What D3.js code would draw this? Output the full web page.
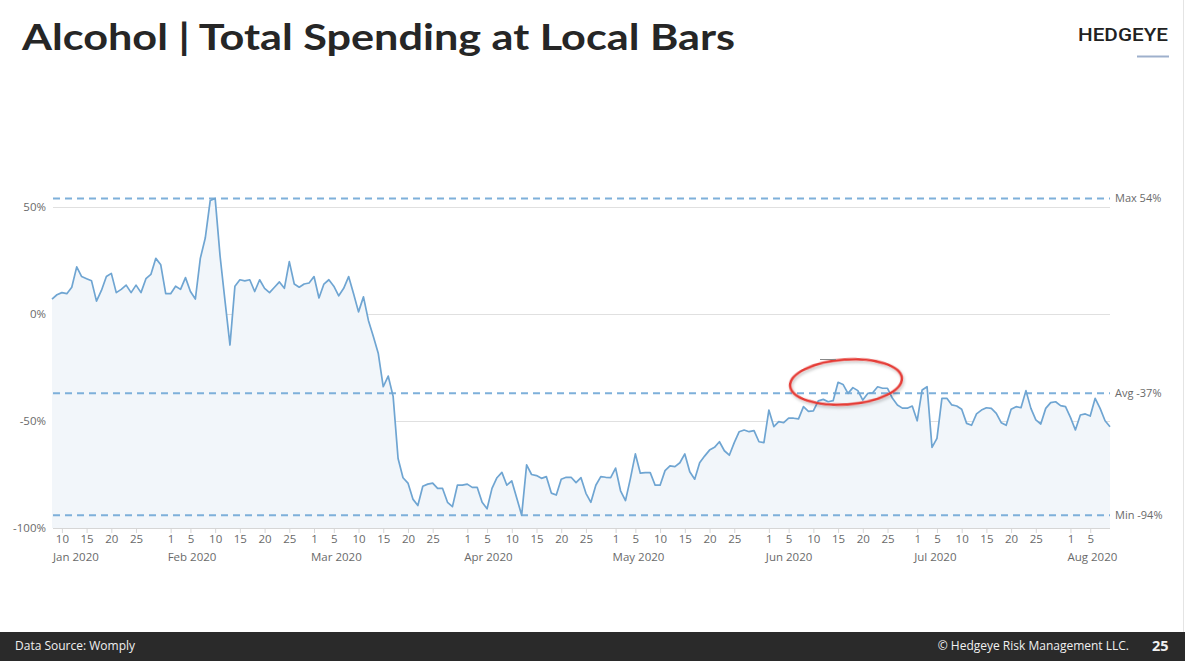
<!DOCTYPE html>
<html>
<head>
<meta charset="utf-8">
<script src="https://cdn.jsdelivr.net/npm/d3@7"></script>
<style>
  html, body { margin: 0; padding: 0; background: #fff; }
  svg { display: block; }
</style>
</head>
<body>
<svg id="chart" width="1185" height="661"></svg>
<script>
// ---------------- DATA ----------------
const startDate = new Date(2020, 0, 8); // first daily observation (Jan 8, 2020)
// daily YoY % change in total spending at local bars, Jan 8 – Aug 9 2020
const spendingValues = [
  7, 9, 10, 9.5, 12.5, 22, 17.5, 16.5, 15.5, 6,
  11, 17.5, 19, 10, 11.5, 13.5, 10, 13.5, 10, 16.5,
  18.5, 26, 23, 9.5, 9.5, 13, 11.5, 17, 10.5, 7,
  26, 35.5, 53, 54, 27, 6, -14.5, 13, 16, 15.5,
  16, 10.5, 16, 12, 10, 12.5, 15, 12, 24.5, 14,
  12.5, 14, 14.5, 17.5, 7.5, 14, 16, 13, 8.5, 12,
  17.5, 9.5, 1, 8, -3, -10.5, -18.5, -34, -29, -38.5,
  -67.5, -76.5, -79, -86.5, -89.5, -80.5, -79.5, -79, -81.5, -81.5,
  -88, -90, -80, -80, -79.5, -81, -81, -88, -91, -81.5,
  -76.5, -74, -80, -78, -86, -94, -70.5, -75, -75.5, -76.8,
  -76, -83.7, -84.6, -77.2, -76.3, -76.3, -78.8, -76.5, -83.8, -88,
  -80, -76, -76.3, -76.5, -72, -82.6, -87.2, -76.8, -65.4, -74.4,
  -74.1, -74.1, -80, -80, -73.2, -71, -71.3, -69.5, -65.4, -73.7,
  -77.2, -69.5, -66.4, -63.6, -62.3, -59.7, -63.9, -66, -60.1, -55,
  -54.2, -55, -54.5, -59.7, -60.1, -44.9, -52.6, -50.3, -50.8, -48.7,
  -48.7, -49, -43.3, -45.5, -45.3, -40.6, -39.9, -41, -40.5, -31.9,
  -32.9, -37.1, -34.4, -35.8, -40.2, -37.1, -36.8, -34, -34.7, -34.7,
  -39.4, -42.5, -44, -44, -43, -49.9, -35.5, -34, -62.3, -58.1,
  -39.4, -39.4, -42.5, -43, -44.5, -51.1, -52, -46.7, -44.9, -43.8,
  -44.1, -46.4, -50.8, -52, -44.5, -43.3, -43.8, -35.8, -44.1, -49.5,
  -51.4, -44.1, -41.4, -41, -42.8, -43.3, -48.3, -54.2, -47.2, -46.7,
  -47.7, -39.4, -44.1, -49.9, -52.7
];
const yTickValues = [50, 0, -50, -100];
const refNames = ["Max", "Avg", "Min"];
const refValues = [54, -37, -94];
const tickMonths = [0, 1, 2, 3, 4, 5, 6, 7];           // Jan..Aug (month index)
const tickDaysOfMonth = [1, 5, 10, 15, 20, 25];
const monthLabels = ["Jan 2020", "Feb 2020", "Mar 2020", "Apr 2020", "May 2020", "Jun 2020", "Jul 2020", "Aug 2020"];

const titleText = "Alcohol | Total Spending at Local Bars";
const sourceText = "Data Source: Womply";
const copyrightText = "© Hedgeye Risk Management LLC.";
const pageNumber = "25";

// ---------------- SETUP ----------------
const svg = d3.select("#chart");
const data = spendingValues.map((v, i) => ({ date: d3.timeDay.offset(startDate, i), value: v }));

const plotLeft = 52, plotRight = 1110, plotTop = 207, plotBottom = 528;
const x = d3.scaleTime()
  .domain([data[0].date, data[data.length - 1].date])
  .range([plotLeft, plotRight]);
const y = d3.scaleLinear().domain([-100, 50]).range([plotBottom, plotTop]);

const labelFont = "'Open Sans', 'DejaVu Sans', sans-serif";

// right page border
svg.append("line").attr("x1", 1183.5).attr("x2", 1183.5).attr("y1", 0).attr("y2", 632)
  .attr("stroke", "#e4e4e4").attr("stroke-width", 1);

// ---------------- TITLE / LOGO ----------------
svg.append("text")
  .attr("x", 22).attr("y", 50)
  .attr("font-family", "Lato, 'Open Sans', sans-serif")
  .attr("font-weight", 700).attr("font-size", 36)
  .attr("fill", "#262626")
  .attr("textLength", 713).attr("lengthAdjust", "spacingAndGlyphs")
  .text(titleText);

svg.append("text")
  .attr("x", 1078).attr("y", 41)
  .attr("font-family", "Roboto, 'Open Sans', sans-serif")
  .attr("font-weight", 500).attr("font-size", 18.5)
  .attr("fill", "#222")
  .attr("textLength", 90).attr("lengthAdjust", "spacingAndGlyphs")
  .text("HEDGEYE");
svg.append("line").attr("x1", 1137).attr("x2", 1169).attr("y1", 56.5).attr("y2", 56.5)
  .attr("stroke", "#9eb0cc").attr("stroke-width", 2);

// ---------------- GRID + Y AXIS ----------------
const yGrid = svg.append("g")
  .attr("transform", `translate(${plotLeft + 1},0)`)
  .call(d3.axisLeft(y).tickValues(yTickValues).tickSize(-(plotRight - plotLeft - 1)).tickFormat(""));
yGrid.select(".domain").remove();
yGrid.selectAll("line").attr("stroke", "#e0e0e0").attr("stroke-width", 1);

const yAxis = svg.append("g")
  .attr("transform", `translate(46,0)`)
  .call(d3.axisLeft(y).tickValues(yTickValues).tickSize(0).tickPadding(0).tickFormat(d => d + "%"));
yAxis.select(".domain").remove();
yAxis.selectAll("text")
  .attr("font-family", labelFont).attr("font-size", 11.5).attr("fill", "#6a6a6a");

// ---------------- AREA + LINE ----------------
const area = d3.area()
  .x(d => x(d.date))
  .y0(plotBottom)
  .y1(d => y(d.value));
svg.append("path").datum(data).attr("d", area).attr("fill", "#f2f6fa");

// reference (plot) lines
const refs = refNames.map((n, i) => ({ name: n, value: refValues[i] }));
svg.selectAll(".refline").data(refs).enter().append("line")
  .attr("class", "refline")
  .attr("x1", plotLeft + 1).attr("x2", plotRight)
  .attr("y1", d => y(d.value)).attr("y2", d => y(d.value))
  .attr("stroke", "#7eb0da").attr("stroke-width", 2)
  .attr("stroke-dasharray", "7,5");
svg.selectAll(".reflabel").data(refs).enter().append("text")
  .attr("class", "reflabel")
  .attr("x", 1115).attr("y", d => y(d.value)).attr("dy", "0.35em")
  .attr("font-family", labelFont).attr("font-size", 11).attr("fill", "#6a6a6a")
  .text(d => `${d.name} ${d.value}%`);

const line = d3.line().x(d => x(d.date)).y(d => y(d.value));
svg.append("path").datum(data).attr("d", line)
  .attr("fill", "none").attr("stroke", "#6fa5d2").attr("stroke-width", 1.7)
  .attr("stroke-linejoin", "round");

// ---------------- X AXIS ----------------
const domain = x.domain();
const tickDates = [];
tickMonths.forEach(m => tickDaysOfMonth.forEach(d => {
  const dt = new Date(2020, m, d);
  if (dt >= domain[0] && dt <= domain[1]) tickDates.push(dt);
}));
const xAxis = svg.append("g")
  .attr("transform", `translate(0,${plotBottom})`)
  .call(d3.axisBottom(x).tickValues(tickDates).tickSize(5).tickPadding(2).tickFormat(d3.timeFormat("%-d")));
xAxis.select(".domain").attr("stroke", "#d6d6d6").attr("d", `M${plotLeft + 1},0.5H${plotRight}`);
xAxis.selectAll(".tick line").attr("stroke", "#d6d6d6");
xAxis.selectAll("text").attr("font-family", labelFont).attr("font-size", 11.5).attr("fill", "#6a6a6a");

svg.selectAll(".month").data(tickMonths).enter().append("text")
  .attr("class", "month")
  .attr("x", m => Math.max(plotLeft + 1, x(new Date(2020, m, 1)) - 3))
  .attr("y", 560.5)
  .attr("font-family", labelFont).attr("font-size", 11.5).attr("fill", "#6a6a6a")
  .text(m => monthLabels[m]);

// ---------------- ANNOTATION (red hand-drawn ellipse) ----------------
const defs = svg.append("defs");
const f = defs.append("filter").attr("id", "shadow").attr("x", "-20%").attr("y", "-40%").attr("width", "140%").attr("height", "180%");
f.append("feDropShadow").attr("dx", 1).attr("dy", 2).attr("stdDeviation", 1.5).attr("flood-color", "#000").attr("flood-opacity", 0.25);
svg.append("ellipse")
  .attr("cx", 846).attr("cy", 382).attr("rx", 56).attr("ry", 22.5)
  .attr("transform", "rotate(-4 846 382)")
  .attr("fill", "none").attr("stroke", "#e53a35").attr("stroke-width", 2.5)
  .attr("filter", "url(#shadow)");
svg.append("line").attr("x1", 820).attr("x2", 836).attr("y1", 359.5).attr("y2", 359.5)
  .attr("stroke", "#888").attr("stroke-width", 1);

// ---------------- FOOTER ----------------
svg.append("rect").attr("x", 0).attr("y", 632).attr("width", 1185).attr("height", 29).attr("fill", "#2a2a2a");
svg.append("text").attr("x", 15).attr("y", 650)
  .attr("font-family", labelFont).attr("font-size", 12).attr("fill", "#f0f0f0")
  .text(sourceText);
svg.append("text").attr("x", 1129).attr("y", 650).attr("text-anchor", "end")
  .attr("font-family", labelFont).attr("font-size", 12).attr("fill", "#f0f0f0")
  .text(copyrightText);
svg.append("text").attr("x", 1152).attr("y", 651)
  .attr("font-family", labelFont).attr("font-weight", 700).attr("font-size", 14.5).attr("fill", "#f0f0f0")
  .text(pageNumber);
</script>
</body>
</html>
